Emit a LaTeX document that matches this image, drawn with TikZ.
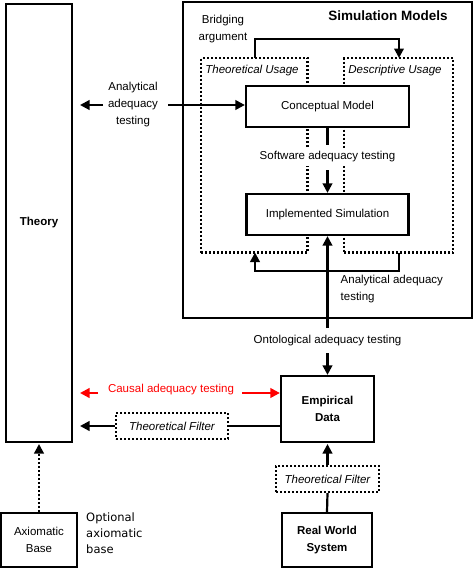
\documentclass[tikz,border=0pt]{standalone}
\usepackage{fontspec}
\setmainfont{Liberation Sans}
\newfontfamily\dvfont{DejaVu Sans}
\usetikzlibrary{arrows.meta}
\begin{document}
\begin{tikzpicture}[x=1pt,y=-1pt,
  every node/.style={font=\fontsize{11.5}{17}\selectfont},
  box/.style={draw,line width=2.2pt,fill=white,inner sep=0pt,align=center},
  dotbox/.style={draw,line width=2.2pt,dash pattern=on 2pt off 2pt,inner sep=0pt,align=center},
  conn/.style={line width=2.2pt},
  arr/.style={line width=2.2pt,-{Triangle[length=9.5pt,width=9.5pt]}},
  lbl/.style={inner sep=0pt,align=center}]
\useasboundingbox (0,0) rectangle (475,570);
% outer boxes
\node[box,minimum width=66pt,minimum height=438pt,font=\fontsize{11.5}{17}\selectfont\bfseries] (theory) at (39,223) {Theory};
\node[box,minimum width=289pt,minimum height=316pt] (sim) at (327.5,160) {};
\node[lbl,font=\fontsize{13.5}{16}\selectfont\bfseries] (simt) at (388,16) {Simulation Models};
% usage regions
\node[dotbox,minimum width=106.5pt,minimum height=194.5pt] (tu) at (254.25,155.25) {};
\node[dotbox,minimum width=109pt,minimum height=194.5pt] (du) at (398.5,155.25) {};
\node[lbl,font=\fontsize{11.5}{17}\selectfont\itshape] (tul) at (252,71) {Theoretical Usage};
\node[lbl,font=\fontsize{11.5}{17}\selectfont\itshape] (dul) at (395,71) {Descriptive Usage};
% inner boxes
\node[box,minimum width=163pt,minimum height=41pt] (cm) at (327.5,106.5) {Conceptual Model};
\node[box,minimum width=162pt,minimum height=41pt] (is) at (327.5,214.5) {Implemented Simulation};
% bridging
\coordinate (b1) at (255,58);
\coordinate (b2) at (399,58);
\draw[arr] (b1) -- (255,39) -- (399,39) -- (b2);
\node[lbl] (bl) at (223,29) {Bridging\\argument};
% analytical left
\node[lbl] (al) at (133,105) {Analytical\\adequacy\\testing};
\coordinate (alt) at (80,105);
\coordinate (alr) at (168,105);
\draw[arr] (103,105) -- (alt);
\draw[arr] (alr) -- (cm.west |- alr);
% software
\node[lbl,fill=white,inner ysep=4pt,inner xsep=3pt] (sw) at (327.5,157) {Software adequacy testing};
\draw[conn] (cm.south) -- (327.5,145);
\draw[arr] (327.5,170) -- (is.north);
% analytical right
\coordinate (ar1) at (399,252.5);
\coordinate (ar2) at (255,252.5);
\draw[arr] (ar1) -- (399,271) -- (255,271) -- (ar2);
\node[lbl,align=left,anchor=north west] (arl) at (340.5,275) {Analytical adequacy\\testing};
% empirical
\node[box,minimum width=93pt,minimum height=66pt,font=\fontsize{11.5}{17}\selectfont\bfseries] (ed) at (327.5,409) {Empirical\\Data};
% ontological
\node[lbl,fill=white] (ol) at (327.5,341) {Ontological adequacy testing};
\draw[arr] (327.5,328) -- (is.south);
\draw[arr] (327.5,353) -- (ed.north);
% causal
\node[lbl,text=red] (cl) at (171,390) {Causal adequacy testing};
\coordinate (cl1) at (80,393);
\draw[arr,red] (98,393) -- (cl1);
\draw[arr,red] (242,393) -- (ed.west |- 0,393);
% filter left
\node[dotbox,minimum width=112pt,minimum height=26pt,font=\fontsize{11.5}{17}\selectfont\itshape] (fl) at (172,426) {Theoretical Filter};
\coordinate (flt) at (80,426);
\draw[conn] (ed.west |- fl.east) -- (fl.east);
\draw[arr] (fl.west) -- (flt);
% filter bottom
\node[dotbox,minimum width=103pt,minimum height=26pt,font=\fontsize{11.5}{17}\selectfont\itshape] (fb) at (327.5,479) {Theoretical Filter};
\node[box,minimum width=90pt,minimum height=54pt,font=\fontsize{11.5}{17}\selectfont\bfseries] (rw) at (327,540) {Real World\\System};
\coordinate (edb) at (327.5,444);
\draw[conn] (rw.north) -- (fb.south);
\draw[arr] (fb.north) -- (edb);
% axiomatic
\node[box,minimum width=76pt,minimum height=54pt] (ax) at (39,540) {Axiomatic\\Base};
\coordinate (thb) at (39,444);
\draw[arr,dash pattern=on 2pt off 2pt] (ax.north) -- (thb);
\node[lbl,align=left,anchor=north west,font=\dvfont\fontsize{11.5}{16}\selectfont] (axl) at (86,513) {Optional\\axiomatic\\base};
\end{tikzpicture}
\end{document}
